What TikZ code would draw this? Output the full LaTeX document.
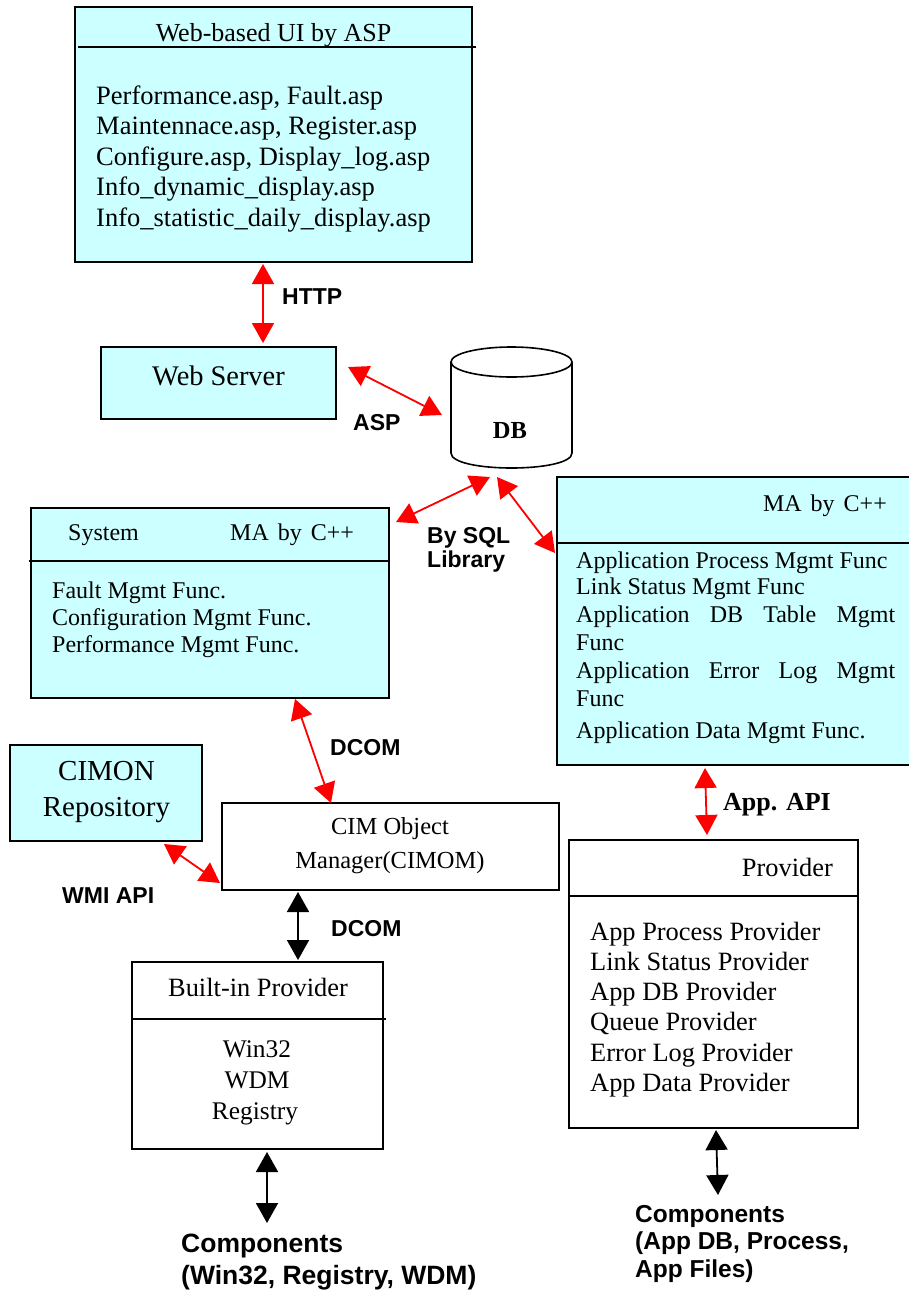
\documentclass[tikz,border=0pt]{standalone}
\usepackage{fontspec}
\setmainfont{Liberation Serif}
\newfontfamily\arialfont{Liberation Sans}
\usetikzlibrary{arrows.meta}
\definecolor{boxcyan}{RGB}{204,255,255}
\newcommand{\setfs}[1]{\fontsize{#1}{#1}\selectfont}
\tikzset{
  cbox/.style={draw, line width=1.6pt, fill=boxcyan, anchor=north west, inner sep=0pt, outer sep=0pt},
  wbox/.style={cbox, fill=white},
  hline/.style={line width=1.6pt},
  txt/.style={inner sep=0pt, font=\setfs{24}},
  lbl/.style={inner sep=0pt, font=\arialfont\bfseries\setfs{23}},
  redarr/.style={draw=red, line width=1.8pt, {Triangle[length=20pt,width=22pt]}-{Triangle[length=20pt,width=22pt]}},
  blkarr/.style={draw=black, line width=1.8pt, {Triangle[length=20pt,width=22pt]}-{Triangle[length=20pt,width=22pt]}}
}
\begin{document}
\begin{tikzpicture}[x=1pt,y=-1pt]
\useasboundingbox (0,0) rectangle (908,1291);
\fill[white] (0,0) rectangle (908,1291);

% ---------- boxes ----------
\node[cbox, minimum width=397pt, minimum height=255pt] (ui) at (75,7) {};
\draw[hline] (78,47) -- (476,47);
\node[txt, font=\setfs{26}, anchor=base] (uititle) at (273.5,41) {Web-based UI by ASP};
\foreach \t [count=\i] in {{Performance.asp, Fault.asp},{Maintennace.asp, Register.asp},{Configure.asp, Display\_log.asp},{Info\_dynamic\_display.asp},{Info\_statistic\_daily\_display.asp}}
  \node[txt, font=\setfs{26.5}, anchor=base west] (uil\i) at (96,{104+30.5*(\i-1)}) {\t};

\node[cbox, minimum width=235pt, minimum height=72pt] (ws) at (101,347) {};
\node[txt, font=\setfs{28.4}, anchor=base] (wstext) at (218.5,385.5) {Web Server};

% DB cylinder
\fill[white] (451,362) -- (451,453) .. controls (451,473) and (572,473) .. (572,453) -- (572,362) -- cycle;
\draw[line width=1.6pt] (451,362) -- (451,453) .. controls (451,473) and (572,473) .. (572,453) -- (572,362);
\draw[line width=1.6pt, fill=white] (511.5,362) ellipse [x radius=60.5, y radius=15];
\node[txt, font=\bfseries\setfs{24.5}, anchor=base] (db) at (510,438) {DB};

\node[cbox, minimum width=358pt, minimum height=190pt] (sys) at (31,508) {};
\draw[hline] (29,561) -- (389,561);
\node[txt, anchor=base west] (systitle) at (68,540) {System};
\node[txt, anchor=base west] (sysma) at (230,540) {MA\hspace{3pt} by\hspace{3pt} C++};
\node[txt, anchor=base west] (sys1) at (52,598) {Fault Mgmt Func.};
\node[txt, anchor=base west] (sys2) at (52,625) {Configuration Mgmt Func.};
\node[txt, anchor=base west] (sys3) at (52,652) {Performance Mgmt Func.};

\node[cbox, minimum width=360pt, minimum height=288pt] (ma) at (557,477) {};
\draw[hline] (557,543) -- (912,543);
\node[txt, anchor=base east] (matitle) at (887,511) {MA\hspace{3pt} by\hspace{3pt} C++};
\node[txt, anchor=base west] (ma1) at (576,568) {Application Process Mgmt Func};
\node[txt, anchor=base west] (ma2) at (576,594) {Link Status Mgmt Func};
\node[txt, anchor=base west] (ma3) at (576,622) {\makebox[319pt][s]{Application DB Table Mgmt}};
\node[txt, anchor=base west] (ma4) at (576,650) {Func};
\node[txt, anchor=base west] (ma5) at (576,678) {\makebox[319pt][s]{Application Error Log Mgmt}};
\node[txt, anchor=base west] (ma6) at (576,706) {Func};
\node[txt, anchor=base west] (ma7) at (576,738) {Application Data Mgmt Func.};

\node[cbox, minimum width=192pt, minimum height=96pt] (cimon) at (10,745) {};
\node[txt, font=\setfs{29}, anchor=base] (cimon1) at (106.5,780) {CIMON};
\node[txt, font=\setfs{29}, anchor=base] (cimon2) at (106.5,816) {Repository};

\node[wbox, minimum width=337pt, minimum height=87pt] (cimom) at (222,803) {};
\node[txt, font=\setfs{24.5}, anchor=base] (cimom1) at (390,834) {CIM Object};
\node[txt, font=\setfs{24.5}, anchor=base] (cimom2) at (390,868) {Manager(CIMOM)};

\node[wbox, minimum width=251pt, minimum height=187pt] (bip) at (132,962) {};
\draw[hline] (132,1019) -- (386,1019);
\node[txt, font=\setfs{26.4}, anchor=base] (biptitle) at (258,996) {Built-in Provider};
\node[txt, font=\setfs{25.4}, anchor=base] (bip1) at (257,1057) {Win32};
\node[txt, font=\setfs{25.4}, anchor=base] (bip2) at (257,1088) {WDM};
\node[txt, font=\setfs{25.4}, anchor=base] (bip3) at (255,1119) {Registry};

\node[wbox, minimum width=289pt, minimum height=288pt] (prov) at (569,840) {};
\draw[hline] (569,896) -- (858,896);
\node[txt, font=\setfs{26.4}, anchor=base east] (provtitle) at (833,876) {Provider};
\foreach \t/\yy [count=\i] in {App Process Provider/940,Link Status Provider/970,App DB Provider/1000,Queue Provider/1030,Error Log Provider/1061,App Data Provider/1091}
  \node[txt, font=\setfs{26.4}, anchor=base west] (prov\i) at (590,\yy) {\t};

% ---------- connector end points ----------
\coordinate (httpA) at (263,264);
\coordinate (httpB) at (263,343);
\coordinate (aspA) at (348,367);
\coordinate (aspB) at (442,415);
\coordinate (sqlA) at (396,522);
\coordinate (sqlB) at (490,477);
\coordinate (sqlC) at (497,477);
\coordinate (sqlD) at (555,553);
\coordinate (dcomA) at (295,699);
\coordinate (dcomB) at (331,803);
\coordinate (wmiA) at (164,844);
\coordinate (wmiB) at (220,883);
\coordinate (apiA) at (705,768);
\coordinate (apiB) at (707,835);
\coordinate (dcom2A) at (298,892);
\coordinate (dcom2B) at (298,960);
\coordinate (compLA) at (267,1152);
\coordinate (compLB) at (267,1223);
\coordinate (compRA) at (716,1130);
\coordinate (compRB) at (718,1195);

\draw[redarr] (httpA) -- (httpB);
\draw[redarr] (aspA) -- (aspB);
\draw[redarr] (sqlA) -- (sqlB);
\draw[redarr] (sqlC) -- (sqlD);
\draw[redarr] (dcomA) -- (dcomB);
\draw[redarr] (wmiA) -- (wmiB);
\draw[redarr] (apiA) -- (apiB);
\draw[blkarr] (dcom2A) -- (dcom2B);
\draw[blkarr] (compLA) -- (compLB);
\draw[blkarr] (compRA) -- (compRB);

% ---------- labels ----------
\node[lbl, anchor=base west] (lhttp) at (282,304) {HTTP};
\node[lbl, anchor=base west] (lasp) at (353,430) {ASP};
\node[lbl, anchor=base west] (lsql1) at (427,543) {By SQL};
\node[lbl, anchor=base west] (lsql2) at (427,567) {Library};
\node[lbl, anchor=base west] (ldcom) at (330,755) {DCOM};
\node[lbl, anchor=base west] (lwmi) at (62,903) {WMI API};
\node[lbl, anchor=base west] (ldcom2) at (331,936) {DCOM};
\node[txt, font=\bfseries\setfs{26}, anchor=base west] (lapi) at (723,810) {App. API};
\node[lbl, font=\arialfont\bfseries\setfs{26.5}, anchor=base west] (lcompL1) at (181,1252) {Components};
\node[lbl, font=\arialfont\bfseries\setfs{26.5}, anchor=base west] (lcompL2) at (181,1284) {(Win32, Registry, WDM)};
\node[lbl, font=\arialfont\bfseries\setfs{24.5}, anchor=base west] (lcompR1) at (635,1222) {Components};
\node[lbl, font=\arialfont\bfseries\setfs{24.5}, anchor=base west] (lcompR2) at (635,1249) {(App DB, Process,};
\node[lbl, font=\arialfont\bfseries\setfs{24.5}, anchor=base west] (lcompR3) at (635,1277) {App Files)};
\end{tikzpicture}
\end{document}
